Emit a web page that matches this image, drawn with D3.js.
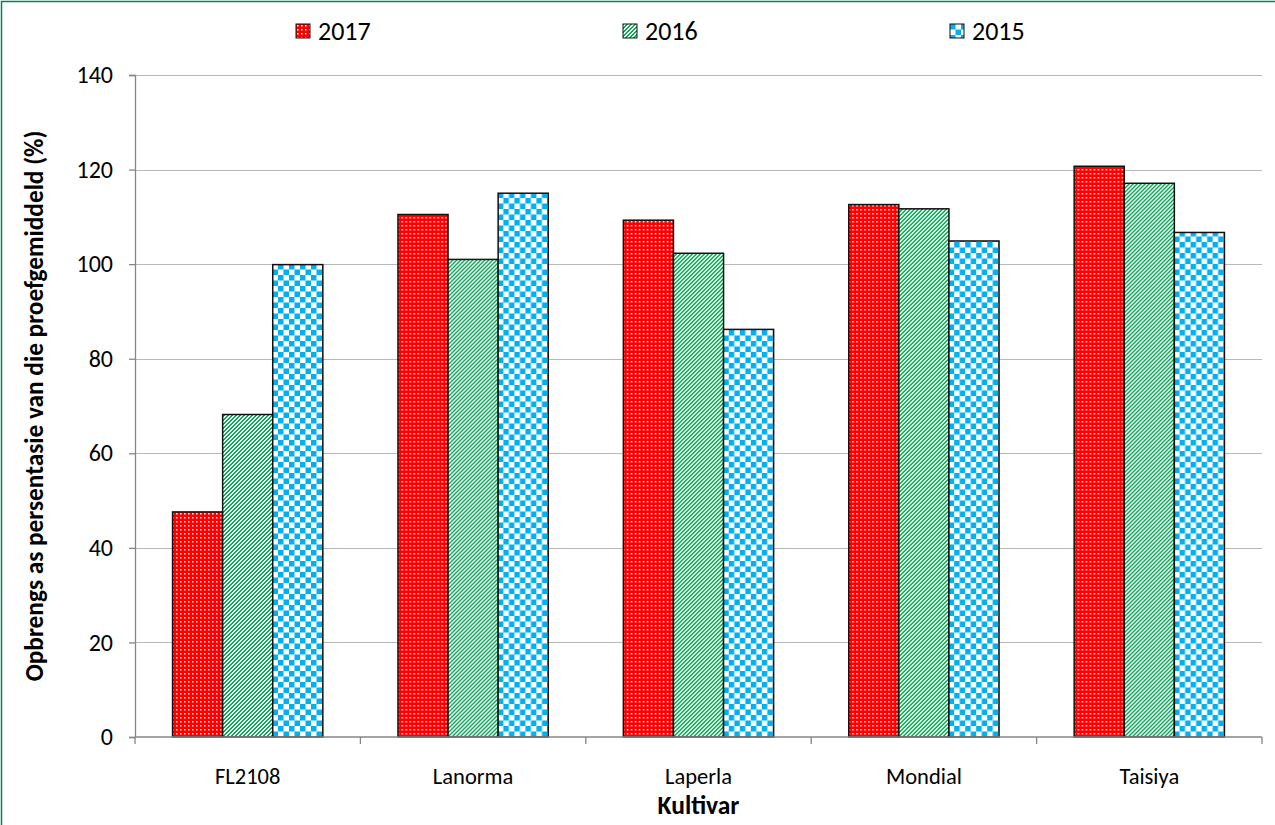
<!DOCTYPE html>
<html>
<head>
<meta charset="utf-8">
<script src="https://cdn.jsdelivr.net/npm/d3@7"></script>
<style>
  html, body { margin: 0; padding: 0; background: #fff; }
  svg { display: block; font-family: Carlito, Calibri, "Noto Sans", sans-serif; }
</style>
</head>
<body>
<svg id="chart" width="1275" height="825"></svg>
<script>
// Yield relative to the trial mean, per cultivar and season
const categories = ["FL2108", "Lanorma", "Laperla", "Mondial", "Taisiya"];
const seriesNames = ["2017", "2016", "2015"];
const values2017 = [47.6, 110.5, 109.3, 112.6, 120.7];
const values2016 = [68.2, 101.0, 102.3, 111.7, 117.1];
const values2015 = [99.9, 115.0, 86.2, 104.9, 106.7];
const yTicks = [0, 20, 40, 60, 80, 100, 120, 140];

const seriesValues = { "2017": values2017, "2016": values2016, "2015": values2015 };
const fills = { "2017": "url(#pat2017)", "2016": "url(#pat2016)", "2015": "url(#pat2015)" };

const svg = d3.select("#chart");
const plot = { left: 135, right: 1262, top: 75, bottom: 737 };

// Outer chart frame
svg.append("rect")
  .attr("x", 1.5).attr("y", 1.5)
  .attr("width", 1290).attr("height", 840)
  .attr("fill", "none").attr("stroke", "#00805f").attr("stroke-width", 1.5);

// Fill patterns
const defs = svg.append("defs");

// Red with a grid of small white dots
const p17 = defs.append("pattern").attr("id", "pat2017")
  .attr("patternUnits", "userSpaceOnUse").attr("width", 4).attr("height", 4);
p17.append("rect").attr("width", 4).attr("height", 4).attr("fill", "#ff0000");
p17.append("rect").attr("x", 1).attr("y", 1).attr("width", 1.5).attr("height", 1.5).attr("fill", "#ffffff");

// Green diagonal stripes built from pixel steps (one 2px run per row)
const p16 = defs.append("pattern").attr("id", "pat2016")
  .attr("patternUnits", "userSpaceOnUse").attr("width", 4).attr("height", 4);
p16.append("rect").attr("width", 4).attr("height", 4).attr("fill", "#ffffff");
[[3, 0], [0, 0], [2, 1], [3, 1], [1, 2], [2, 2], [0, 3], [1, 3]].forEach(([cx, cy]) => {
  p16.append("rect").attr("x", cx).attr("y", cy).attr("width", 1).attr("height", 1).attr("fill", "#00b050");
});

// Blue and white checkerboard
const p15 = defs.append("pattern").attr("id", "pat2015")
  .attr("patternUnits", "userSpaceOnUse").attr("width", 11).attr("height", 11);
p15.append("rect").attr("width", 11).attr("height", 11).attr("fill", "#ffffff");
p15.append("rect").attr("x", 0).attr("y", 0).attr("width", 5.5).attr("height", 5.5).attr("fill", "#00b0f0");
p15.append("rect").attr("x", 5.5).attr("y", 5.5).attr("width", 5.5).attr("height", 5.5).attr("fill", "#00b0f0");

// Scales
const x0 = d3.scaleBand().domain(categories).range([plot.left, plot.right]).padding(0);
const bw = x0.bandwidth();
const barW = bw / 4.5;
const x1 = d3.scaleBand().domain(seriesNames).range([barW * 0.75, bw - barW * 0.75]).padding(0);
const y = d3.scaleLinear().domain([0, 140]).range([plot.bottom, plot.top]);

// Horizontal gridlines
svg.append("g")
  .selectAll("line")
  .data(yTicks.filter(t => t > 0))
  .join("line")
  .attr("x1", plot.left).attr("x2", plot.right)
  .attr("y1", d => Math.round(y(d)) + 0.5).attr("y2", d => Math.round(y(d)) + 0.5)
  .attr("stroke", "#b8b8b8").attr("stroke-width", 1.2);

// Bars
const groups = svg.append("g")
  .selectAll("g")
  .data(categories)
  .join("g")
  .attr("transform", d => `translate(${x0(d)},0)`);

groups.selectAll("rect")
  .data((c, i) => seriesNames.map(s => ({ s, v: seriesValues[s][i] })))
  .join("rect")
  .attr("x", d => x1(d.s))
  .attr("y", d => y(d.v))
  .attr("width", x1.bandwidth())
  .attr("height", d => y(0) - y(d.v))
  .attr("fill", d => fills[d.s])
  .attr("stroke", "#111")
  .attr("stroke-width", 1.5);

// Y axis
const yAxis = d3.axisLeft(y).tickValues(yTicks).tickSize(6).tickPadding(16).tickFormat(d3.format("d"));
const gy = svg.append("g").attr("transform", `translate(${plot.left},0)`).call(yAxis);
gy.select(".domain").attr("stroke", "#868686").attr("stroke-width", 1.3);
gy.selectAll(".tick line").attr("stroke", "#868686").attr("stroke-width", 1.3);
gy.selectAll(".tick text").attr("font-size", 24).attr("fill", "#000").attr("font-family", "Carlito, Calibri, 'Noto Sans', sans-serif");

// X axis with ticks at category boundaries
const gx = svg.append("g").attr("transform", `translate(0,${plot.bottom})`);
gx.append("line")
  .attr("x1", plot.left).attr("x2", plot.right)
  .attr("y1", 0).attr("y2", 0)
  .attr("stroke", "#868686").attr("stroke-width", 1.3);
const boundaries = categories.map(c => x0(c)).concat([plot.right]);
gx.selectAll("line.tk")
  .data(boundaries)
  .join("line").attr("class", "tk")
  .attr("x1", d => d).attr("x2", d => d)
  .attr("y1", 0).attr("y2", 7)
  .attr("stroke", "#868686").attr("stroke-width", 1.3);
gx.selectAll("text")
  .data(categories)
  .join("text")
  .attr("x", d => x0(d) + bw / 2)
  .attr("y", 47)
  .attr("text-anchor", "middle")
  .attr("font-size", 22.5)
  .text(d => d);

// Axis titles
svg.append("text")
  .attr("x", (plot.left + plot.right) / 2)
  .attr("y", 814)
  .attr("text-anchor", "middle")
  .attr("font-size", 25.5)
  .attr("font-weight", "bold")
  .text("Kultivar");

svg.append("text")
  .attr("transform", `translate(43,${(plot.top + plot.bottom) / 2}) rotate(-90)`)
  .attr("text-anchor", "middle")
  .attr("font-size", 25.3)
  .attr("font-weight", "bold")
  .text("Opbrengs as persentasie van die proefgemiddeld (%)");

// Legend
const legendX = [296, 623, 950];
const legend = svg.append("g")
  .selectAll("g")
  .data(seriesNames)
  .join("g")
  .attr("transform", (d, i) => `translate(${legendX[i]},24)`);
legend.append("rect")
  .attr("width", 14).attr("height", 14)
  .attr("fill", d => fills[d])
  .attr("stroke", "#111").attr("stroke-width", 1);
legend.append("text")
  .attr("x", 22).attr("y", 16)
  .attr("font-size", 26)
  .text(d => d);
</script>
</body>
</html>
